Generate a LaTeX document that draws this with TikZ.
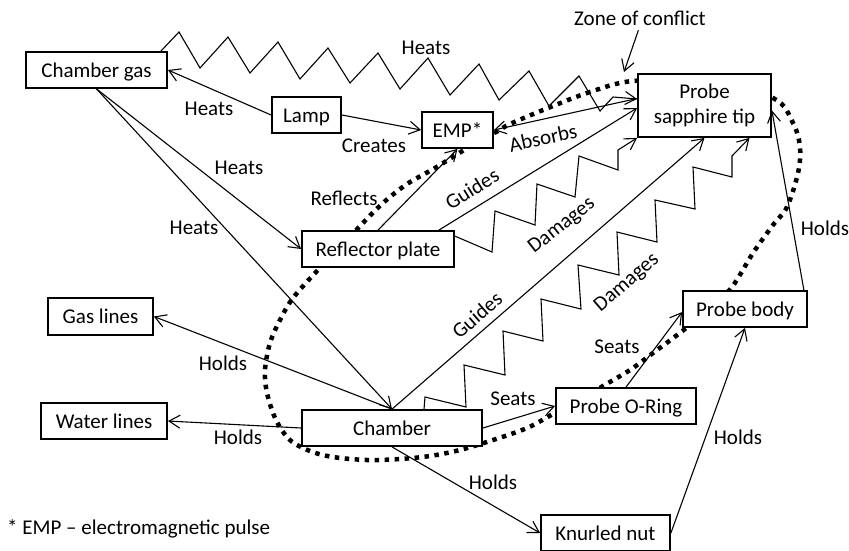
\documentclass[tikz,border=0pt]{standalone}
\usepackage{fontspec}
\setmainfont{Carlito}
\usetikzlibrary{arrows.meta,backgrounds}
\begin{document}
\begin{tikzpicture}[x=1pt,y=-1pt,
  font=\fontsize{21}{25}\selectfont,
  box/.style={draw,line width=1.8pt,fill=white,inner sep=0pt,minimum height=36pt,
    text height=15pt,text depth=1pt},
  tipbox/.style={draw,line width=1.8pt,fill=white,inner sep=0pt,align=center},
  lbl/.style={inner sep=0pt},
  link/.style={line width=1.1pt,line join=miter,
    -{Straight Barb[length=11pt,width=13pt,line width=1.1pt]}},
  zone/.style={line width=4.5pt,dash pattern=on 4.5pt off 5.5pt}
]
\useasboundingbox (0,0) rectangle (849,550);

% boxes
\node[box,minimum width=141pt] (cgas) at (96.5,70) {Chamber gas};
\node[box,minimum width=69pt] (lamp) at (306.5,115) {Lamp};
\node[box,minimum width=71pt] (emp) at (457.5,130) {EMP*};
\node[tipbox,minimum width=133pt,minimum height=63pt] (tip) at (704.5,105.5) {Probe\\sapphire tip};
\node[box,minimum width=152pt] (refl) at (378,249) {Reflector plate};
\node[box,minimum width=105pt,minimum height=37pt] (gasl) at (100.5,316.5) {Gas lines};
\node[box,minimum width=126pt] (water) at (104,421) {Water lines};
\node[box,minimum width=180pt] (chamber) at (392,428) {Chamber};
\node[box,minimum width=140pt] (oring) at (626,406) {Probe O-Ring};
\node[box,minimum width=124pt] (body) at (745,309) {Probe body};
\node[box,minimum width=129pt] (knurl) at (605.5,533) {Knurled nut};

% zone of conflict outline, behind the boxes
\begin{pgfonlayer}{background}
\draw[zone] plot[smooth cycle,tension=0.55] coordinates {
  (633,81) (590,92) (548,108) (510,124) (498,131) (480,140) (464,150)
  (435,168) (407,184) (383,203) (360,226) (338,250) (317,271) (293,298)
  (280,320) (270,343) (265,370) (267,393) (276,420) (290,440) (310,451)
  (333,457) (367,460) (400,459) (430,456) (460,450) (493,440) (527,428)
  (553,414) (580,400) (603,386) (630,370) (653,353) (685,329) (710,308)
  (732,287) (753,253) (773,225) (787,207) (798,173) (800,147) (793,123)
  (773,98) (705,82)};
\end{pgfonlayer}

% straight connectors
\draw[link] (lamp.west) -- (cgas.east);
\draw[link] (lamp.east) -- (emp.west);
\draw[link] (cgas.south) -- (refl.west);
\draw[link] (cgas.south) -- (chamber.north);
\draw[link] (chamber.north) -- (gasl.east);
\draw[link] (chamber.west) -- (water.east);
\draw[link] (chamber.south) -- (knurl.west);
\draw[link] (chamber.east) -- (oring.west);
\draw[link] (oring.north) -- ([yshift=-3pt]body.west);
\draw[link] (knurl.east) -- (body.south);
\draw[link] ([xshift=-4pt]body.north east) -- ([yshift=-5pt]tip.east);
\draw[link] ([yshift=7pt]tip.west) -- (emp.east);
\draw[link] (refl.north) -- (emp.south);
\draw[link] ([xshift=-16pt]refl.north east) -- ([yshift=-2.5pt]tip.west);
\draw[link] (chamber.north) -- (tip.south);

% sawtooth connectors
\draw[link] ([xshift=-7pt]cgas.north east) -- (179,32) -- (200,68) -- (228,37)
  -- (250,73) -- (278,42) -- (300,79) -- (328,48) -- (350,83) -- (378,53)
  -- (400,89) -- (428,58) -- (450,95) -- (479,64) -- (499,100) -- (529,71)
  -- (549,106) -- (579,76) -- (600,111) -- (613,97) -- ([yshift=6.5pt]tip.west);
\draw[link] ([yshift=-6pt]refl.north east) -- (492,252) -- (495,211) -- (535,225)
  -- (537,184) -- (575,197) -- (579,156) -- (618,170) -- (618,150) -- (tip.south west);
\draw[link] ([xshift=32pt]chamber.north) -- (425,397) -- (466,407) -- (464,365)
  -- (505,375) -- (503,331) -- (543,341) -- (541,299) -- (581,309) -- (578,265)
  -- (619,275) -- (617,232) -- (657,242) -- (655,200) -- (695,209) -- (693,167)
  -- (732,177) -- (732,156) -- ([xshift=45pt]tip.south);

% connector labels
\node[lbl] (t1) at (426,48) {Heats};
\node[lbl] (t2) at (209,109) {Heats};
\node[lbl] (t3) at (374,146) {Creates};
\node[lbl] (t4) at (239,168) {Heats};
\node[lbl] (t5) at (194,228) {Heats};
\node[lbl] (t6) at (344,198) {Reflects};
\node[lbl,rotate=12] (t7) at (543,138) {Absorbs};
\node[lbl,rotate=32] (t8) at (472,189) {Guides};
\node[lbl,rotate=38] (t9) at (562,226) {Damages};
\node[lbl,rotate=41] (t10) at (477,315) {Guides};
\node[lbl,rotate=41] (t11) at (627,283) {Damages};
\node[lbl] (t12) at (617,347) {Seats};
\node[lbl] (t13) at (513,399) {Seats};
\node[lbl] (t14) at (223,363) {Holds};
\node[lbl] (t15) at (238,437) {Holds};
\node[lbl] (t16) at (493,482) {Holds};
\node[lbl] (t17) at (738,437) {Holds};
\node[lbl] (t18) at (825,228) {Holds};

% zone of conflict callout
\node[lbl] (zone) at (640,18) {Zone of conflict};
\coordinate (zc) at (624,72);
\draw[link,shorten <=5pt] (zone.south) -- (zc);

% footnote
\node[lbl,anchor=base west] (note) at (7,534) {* EMP – electromagnetic pulse};
\end{tikzpicture}
\end{document}
